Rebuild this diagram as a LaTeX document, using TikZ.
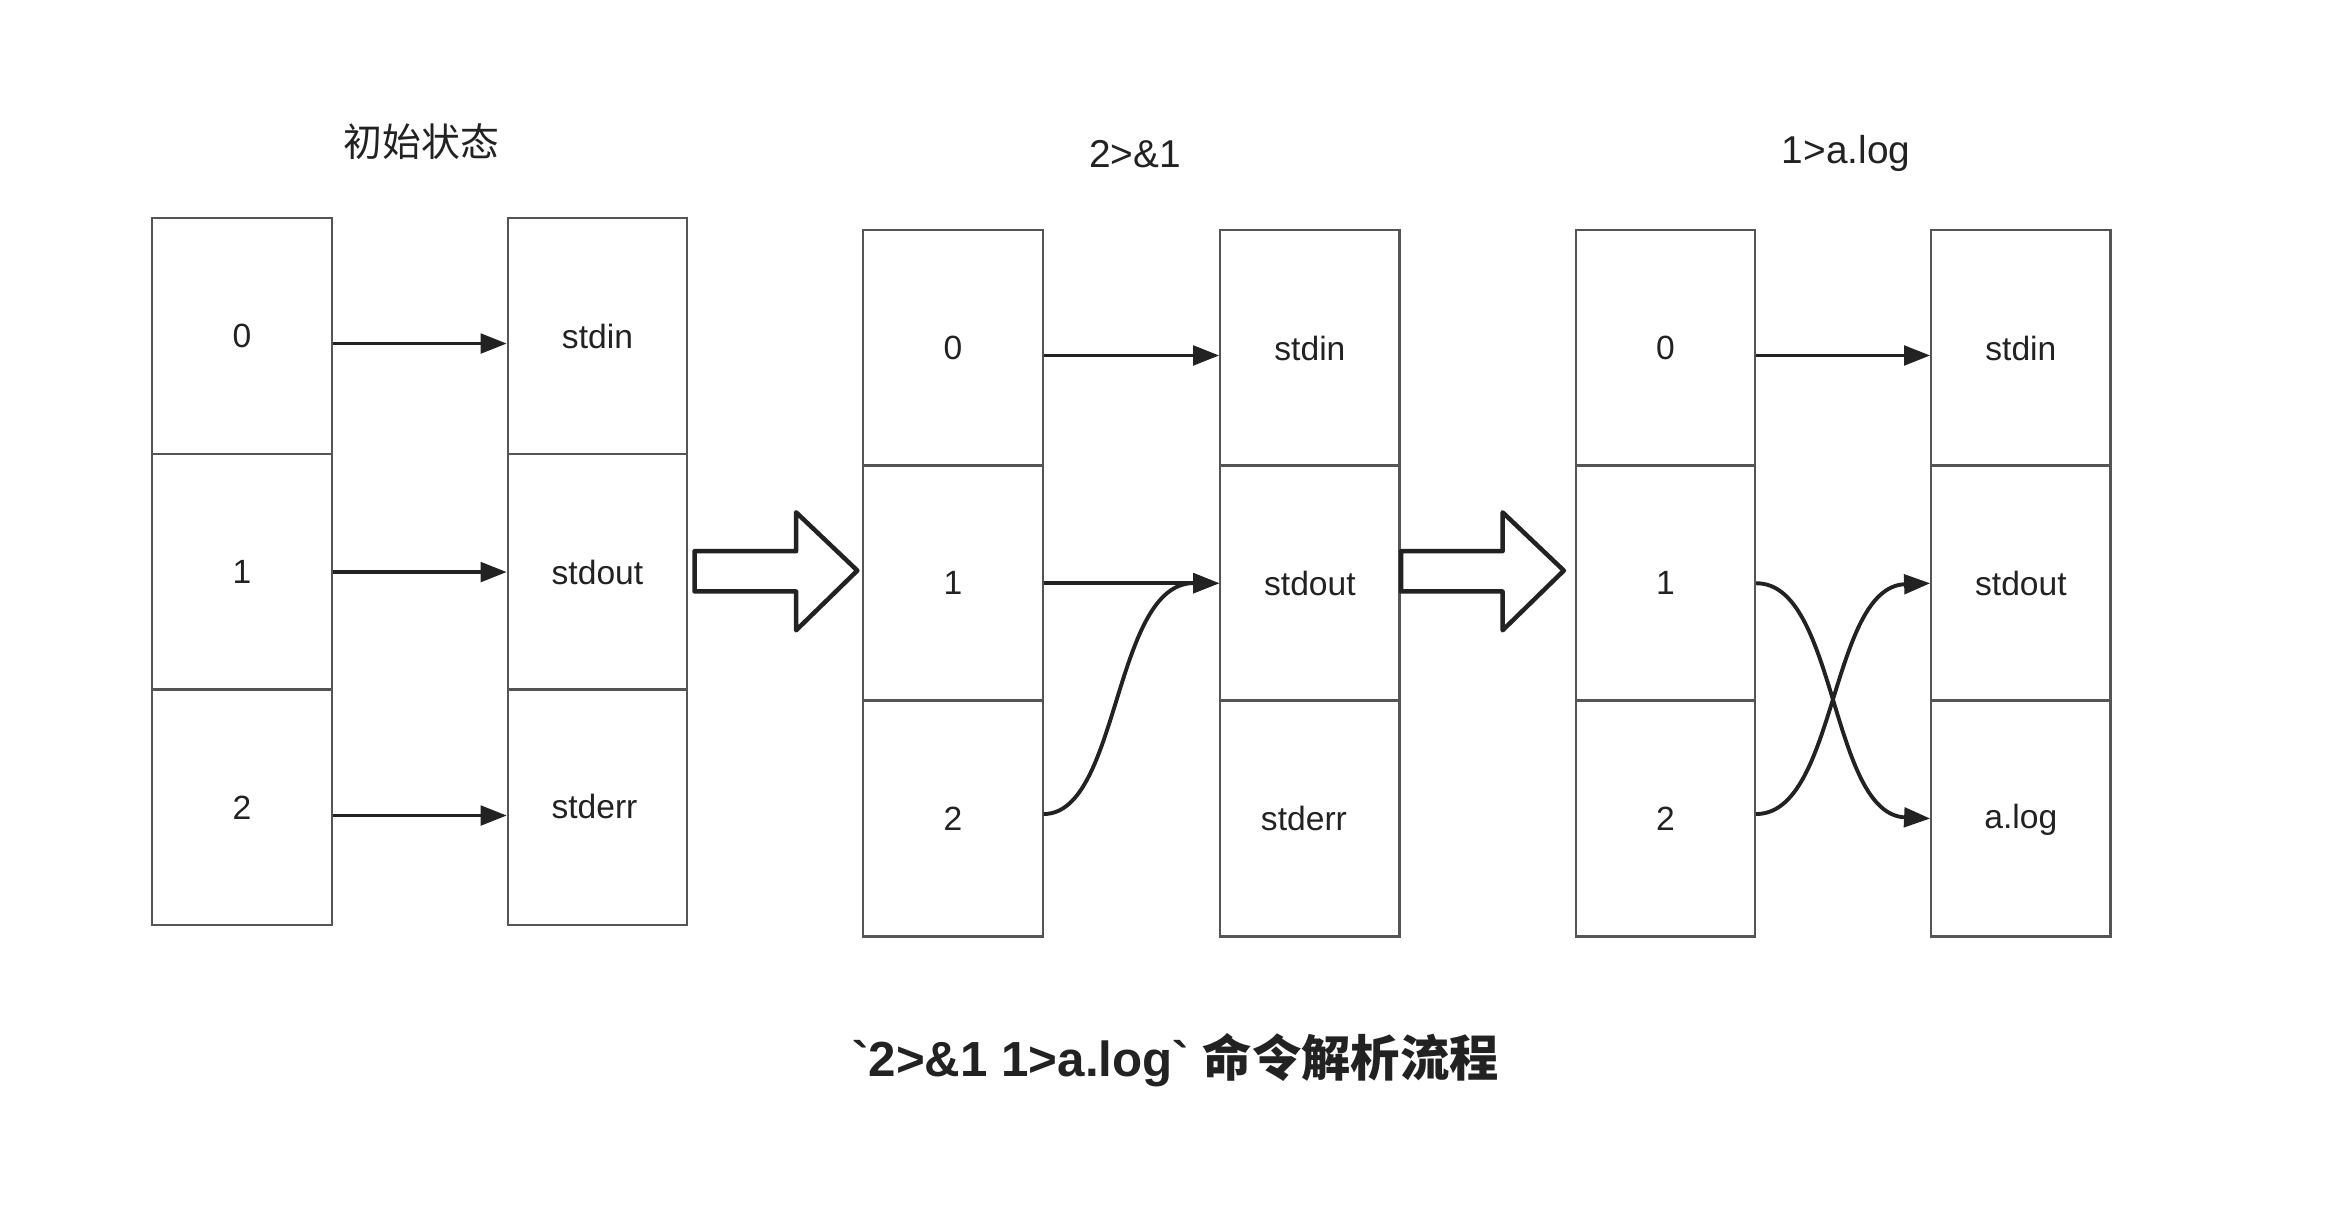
\documentclass[tikz,border=0pt]{standalone}
\usepackage{fontspec}
\setmainfont{Liberation Sans}
\newfontfamily\cjk{Noto Sans CJK SC}
\usetikzlibrary{arrows.meta,calc}
\definecolor{boxline}{HTML}{555555}
\definecolor{ink}{HTML}{222222}
\newcommand\gravech{\XeTeXglyph\XeTeXcharglyph"60\relax}
\tikzset{
  cell/.style={draw=boxline,line width=1.4pt,minimum width=120pt,minimum height=158pt,inner sep=0pt,
    font=\fontsize{22.5}{26}\selectfont,text=ink},
  lbl/.style={font=\fontsize{22.5}{26}\selectfont,text=ink},
  ttl/.style={font=\fontsize{26}{30}\selectfont,text=ink},
  conn/.style={draw=ink,line width=2.6pt,-{Triangle[length=17.5pt,width=13pt]}},
  bigarrow/.style={draw=ink,line width=3pt,fill=white,line join=round}
}
\begin{document}
\begin{tikzpicture}[x=1pt,y=-1pt]
\useasboundingbox (0,0) rectangle (1568,811);
\fill[white] (0,0) rectangle (1568,811);
% group 1
\node[cell] (a0) at (162,225) {0};
\node[cell] (a1) at (162,383) {1};
\node[cell] (a2) at (162,540.5) {2};
\node[cell] (b0) at (400,225) {stdin};
\node[cell] (b1) at (400,383) {stdout};
\node[cell] (b2) at (400,540.5) {};
\node[lbl] (b2l) at (398,540) {stderr};
\node[ttl] (t1) at (282,95) {\cjk 初始状态};
\draw[conn] ([yshift=-5pt]a0.east) -- ([yshift=-5pt]b0.west);
\draw[conn] (a1.east) -- (b1.west);
\draw[conn] ([yshift=-5.5pt]a2.east) -- ([yshift=-5.5pt]b2.west);
% big arrow 1
\draw[bigarrow] (465,369) -- (533,369) -- (533,343) -- (574,382) -- (533,422) -- (533,396) -- (465,396) -- cycle;
% group 2
\node[cell] (c0) at (638,233) {0};
\node[cell] (c1) at (638,390.5) {1};
\node[cell] (c2) at (638,548) {2};
\node[cell] (d0) at (877,233) {stdin};
\node[cell] (d1) at (877,390.5) {stdout};
\node[cell] (d2) at (877,548) {};
\node[lbl] (d2l) at (873,548) {stderr};
\node[ttl] (t2) at (760,103) {2>\&1};
\draw[conn] ([yshift=-5pt]c0.east) -- ([yshift=-5pt]d0.west);
\draw[conn] (c1.east) -- (d1.west);
\draw[conn] ([yshift=3pt]c2.east) .. controls (750,545) and (745,390) .. (d1.west);
% big arrow 2
\draw[bigarrow] (938,369) -- (1006,369) -- (1006,343) -- (1047,382) -- (1006,422) -- (1006,396) -- (938,396) -- cycle;
% group 3
\node[cell] (e0) at (1115,233) {0};
\node[cell] (e1) at (1115,390.5) {1};
\node[cell] (e2) at (1115,548) {2};
\node[cell] (f0) at (1353,233) {stdin};
\node[cell] (f1) at (1353,390.5) {stdout};
\node[cell] (f2) at (1353,548) {};
\node[lbl] (f2l) at (1353,549) {a.log};
\node[ttl] (t3) at (1236,103) {1>a.log};
\draw[conn] ([yshift=-5pt]e0.east) -- ([yshift=-5pt]f0.west);
\draw[conn] (e1.east) .. controls (1230,390) and (1225,545) .. (f2.west);
\draw[conn] ([yshift=3pt]e2.east) .. controls (1230,545) and (1225,393) .. (f1.west);
% caption
\node[font=\fontsize{33}{38}\selectfont\bfseries,text=ink] (cap) at (787,710)
  {\gravech 2>\&1 1>a.log\gravech\ {\cjk\bfseries 命令解析流程}};
\end{tikzpicture}
\end{document}
